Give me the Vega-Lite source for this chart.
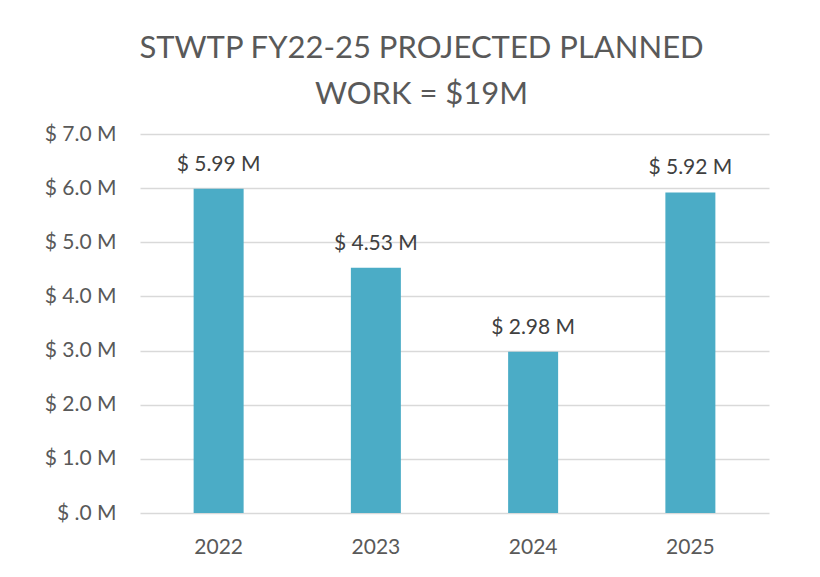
{
  "$schema": "https://vega.github.io/schema/vega-lite/v6.json",
  "width": 629,
  "height": 379,
  "autosize": {"type": "none"},
  "padding": {"left": 140, "top": 134, "right": 51, "bottom": 64},
  "background": "white",
  "title": {
    "text": ["STWTP FY22-25 PROJECTED PLANNED", "WORK = $19M"],
    "font": "Lato",
    "fontSize": 31,
    "fontWeight": "normal",
    "color": "#595959",
    "anchor": "middle",
    "dx": -33,
    "offset": 12,
    "lineHeight": 46
  },
  "data": {
    "values": [
      {"year": "2022", "value": 5.99},
      {"year": "2023", "value": 4.53},
      {"year": "2024", "value": 2.98},
      {"year": "2025", "value": 5.92}
    ]
  },
  "encoding": {
    "x": {
      "field": "year",
      "type": "nominal",
      "sort": null,
      "scale": {"paddingInner": 0, "paddingOuter": 0},
      "axis": {
        "title": null,
        "labelAngle": 0,
        "domain": false,
        "ticks": false,
        "labelFont": "Lato",
        "labelFontSize": 21,
        "labelColor": "#595959",
        "labelBaseline": "alphabetic",
        "labelPadding": 40
      }
    },
    "y": {
      "field": "value",
      "type": "quantitative",
      "scale": {"domain": [0, 7], "nice": false},
      "axis": {
        "title": null,
        "values": [0, 1, 2, 3, 4, 5, 6, 7],
        "labelExpr": "datum.value == 0 ? '$ .0 M' : '$ ' + format(datum.value, '.1f') + ' M'",
        "domain": false,
        "ticks": false,
        "labelFont": "Lato",
        "labelFontSize": 21,
        "labelColor": "#595959",
        "labelPadding": 24,
        "gridColor": "#D9D9D9",
        "gridWidth": 1.5
      }
    }
  },
  "layer": [
    {"mark": {"type": "bar", "color": "#4BACC6", "size": 50}},
    {
      "transform": [
        {"calculate": "'$ ' + format(datum.value, '.2f') + ' M'", "as": "label"}
      ],
      "mark": {
        "type": "text",
        "dy": -18,
        "baseline": "alphabetic",
        "font": "Lato",
        "fontSize": 21,
        "color": "#404040"
      },
      "encoding": {
        "text": {"field": "label", "type": "nominal"}
      }
    }
  ],
  "config": {"view": {"stroke": null}}
}
